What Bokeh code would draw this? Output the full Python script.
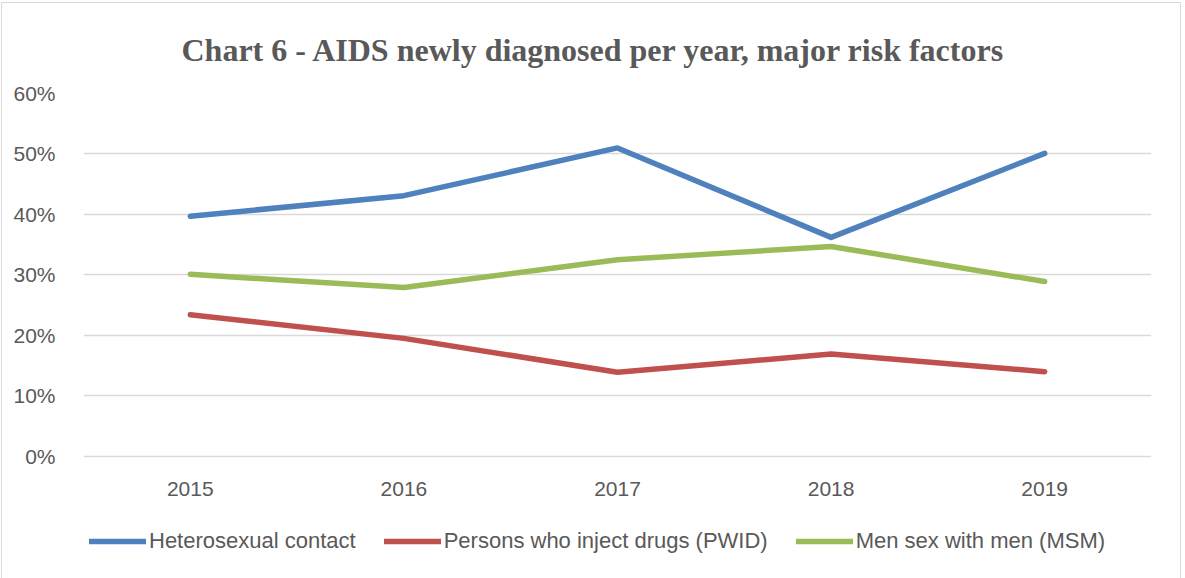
from bokeh.plotting import figure
from bokeh.layouts import column
from bokeh.models import ColumnDataSource, FactorRange, FixedTicker, NumeralTickFormatter, Legend, LegendItem
from bokeh.embed import file_html
from bokeh.resources import INLINE

years = ["2015", "2016", "2017", "2018", "2019"]
hetero = [0.397, 0.431, 0.510, 0.362, 0.501]
pwid = [0.234, 0.195, 0.139, 0.169, 0.140]
msm = [0.301, 0.279, 0.325, 0.347, 0.289]
series_names = ["Heterosexual contact", "Persons who inject drugs (PWID)", "Men sex with men (MSM)"]
colors = ["#4f81bd", "#c0504d", "#9bbb59"]
y_ticks = [0, 0.1, 0.2, 0.3, 0.4, 0.5, 0.6]
cols = ["hetero", "pwid", "msm"]

src = ColumnDataSource(dict(year=years, hetero=hetero, pwid=pwid, msm=msm))

p = figure(width=1178, height=505, x_range=FactorRange(factors=years, range_padding=0),
           y_range=(-0.002, 0.6), output_backend="svg", toolbar_location=None,
           title="Chart 6 - AIDS newly diagnosed per year, major risk factors",
           min_border_left=81, min_border_right=29, min_border_top=90, min_border_bottom=51)

p.title.align = "left"
p.title.offset = 98
p.title.standoff = 52
p.title.text_font = "Liberation Serif"
p.title.text_font_style = "bold"
p.title.text_font_size = "32px"
p.title.text_color = "#595959"

p.outline_line_color = None
p.xgrid.grid_line_color = None
p.ygrid.grid_line_color = "#d9d9d9"
p.ygrid.grid_line_width = 1.3
p.ygrid.ticker = FixedTicker(ticks=y_ticks)

p.yaxis.ticker = FixedTicker(ticks=y_ticks)
p.yaxis.formatter = NumeralTickFormatter(format="0%")
for ax in (p.xaxis, p.yaxis):
    ax.axis_line_color = None
    ax.major_tick_line_color = None
    ax.minor_tick_line_color = None
    ax.major_label_text_font = "Liberation Sans"
    ax.major_label_text_font_size = "21px"
    ax.major_label_text_color = "#595959"
p.yaxis.major_label_standoff = 22
p.xaxis.major_label_standoff = 18

for col, c in zip(cols, colors):
    p.line("year", col, source=src, line_color=c, line_width=5.5,
           line_cap="round", line_join="round")

# legend strip below the chart (same series, drawn out of view so only the legend shows)
p2 = figure(width=1178, height=70, x_range=FactorRange(factors=years, range_padding=0),
            y_range=(5, 6), output_backend="svg", toolbar_location=None,
            min_border_left=0, min_border_right=0, min_border_top=0, min_border_bottom=0)
p2.axis.visible = False
p2.grid.grid_line_color = None
p2.outline_line_color = None
leg_renderers = []
for col, c in zip(cols, colors):
    r = p2.line("year", col, source=src, line_color=c, line_width=5.5, line_cap="round")
    leg_renderers.append(r)

legend = Legend(items=[LegendItem(label=n, renderers=[r]) for n, r in zip(series_names, leg_renderers)],
                orientation="horizontal", location=(6, 24), padding=0, margin=0,
                spacing=28, glyph_width=57, glyph_height=20, label_height=20, label_standoff=3,
                label_text_font="Liberation Sans", label_text_font_size="22px",
                label_text_color="#595959", background_fill_alpha=0, border_line_color=None)
p2.add_layout(legend, "center")

layout = column(p, p2, styles={"border": "1px solid #d9d9d9", "margin-left": "1px", "margin-top": "2px"})

open("out.html", "w").write(file_html(layout, INLINE))
